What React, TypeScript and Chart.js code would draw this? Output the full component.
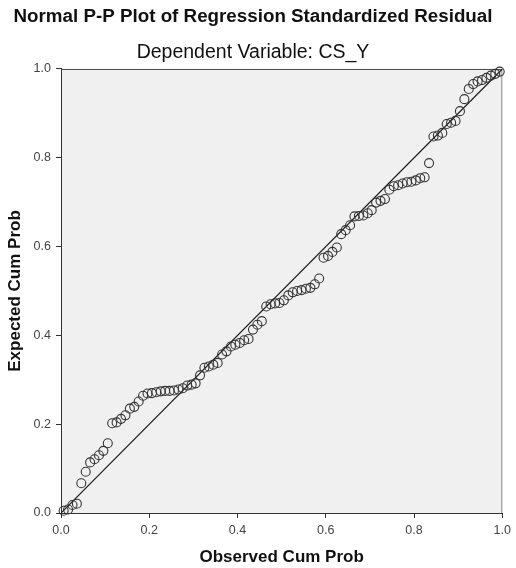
import React, { useEffect, useRef } from "react";
import { Chart, registerables } from "chart.js";

Chart.register(...registerables);

const TITLE = "Normal P-P Plot of Regression Standardized Residual";
const SUBTITLE = "Dependent Variable: CS_Y";
const X_TITLE = "Observed Cum Prob";
const Y_TITLE = "Expected Cum Prob";
const TICKS = [0, 0.2, 0.4, 0.6, 0.8, 1.0];

const observed = [
  0.006, 0.016, 0.026, 0.036, 0.046, 0.056, 0.066, 0.076, 0.086, 0.096,
  0.106, 0.116, 0.126, 0.136, 0.146, 0.156, 0.166, 0.176, 0.186, 0.196,
  0.206, 0.216, 0.226, 0.236, 0.246, 0.256, 0.266, 0.276, 0.286, 0.296,
  0.305, 0.315, 0.325, 0.335, 0.345, 0.355, 0.365, 0.375, 0.385, 0.395,
  0.405, 0.415, 0.425, 0.435, 0.445, 0.455, 0.465, 0.475, 0.485, 0.495,
  0.505, 0.515, 0.525, 0.535, 0.545, 0.555, 0.565, 0.575, 0.585, 0.595,
  0.605, 0.615, 0.625, 0.635, 0.645, 0.655, 0.665, 0.675, 0.685, 0.695,
  0.704, 0.714, 0.724, 0.734, 0.744, 0.754, 0.764, 0.774, 0.784, 0.794,
  0.804, 0.814, 0.824, 0.834, 0.844, 0.854, 0.864, 0.874, 0.884, 0.894,
  0.904, 0.914, 0.924, 0.934, 0.944, 0.954, 0.964, 0.974, 0.984, 0.994,
];

const expected = [
  0.005, 0.008, 0.018, 0.021, 0.067, 0.093, 0.114, 0.121, 0.130, 0.140,
  0.157, 0.202, 0.204, 0.212, 0.220, 0.235, 0.239, 0.251, 0.264, 0.269,
  0.270, 0.272, 0.274, 0.275, 0.275, 0.276, 0.278, 0.281, 0.287, 0.289,
  0.292, 0.310, 0.327, 0.330, 0.334, 0.338, 0.357, 0.364, 0.375, 0.379,
  0.383, 0.389, 0.392, 0.413, 0.424, 0.432, 0.465, 0.470, 0.472, 0.473,
  0.479, 0.490, 0.497, 0.500, 0.502, 0.505, 0.507, 0.515, 0.528, 0.575,
  0.579, 0.588, 0.598, 0.628, 0.637, 0.648, 0.668, 0.669, 0.670, 0.675,
  0.682, 0.699, 0.703, 0.707, 0.728, 0.736, 0.738, 0.742, 0.745, 0.746,
  0.749, 0.754, 0.756, 0.788, 0.848, 0.850, 0.856, 0.876, 0.879, 0.883,
  0.905, 0.932, 0.955, 0.966, 0.972, 0.975, 0.980, 0.985, 0.989, 0.994,
];

const DIAGONAL_X = [0, 1];
const DIAGONAL_Y = [0, 1];

const FONT = '"Liberation Sans", Arial, Helvetica, sans-serif';

const plotFrame = {
  id: "plotFrame",
  beforeDraw(chart: any) {
    const { ctx, chartArea: a } = chart;
    ctx.save();
    ctx.fillStyle = "#F0F0F0";
    ctx.fillRect(a.left, a.top, a.right - a.left, a.bottom - a.top);
    ctx.restore();
  },
  beforeDatasetsDraw(chart: any) {
    const { ctx, chartArea: a } = chart;
    ctx.save();
    ctx.lineWidth = 1;
    ctx.strokeStyle = "#444";
    ctx.beginPath();
    ctx.moveTo(a.left, a.top + 0.5);
    ctx.lineTo(a.right, a.top + 0.5);
    ctx.stroke();
    ctx.strokeStyle = "#8a8a8a";
    ctx.beginPath();
    ctx.moveTo(a.right - 0.5, a.top);
    ctx.lineTo(a.right - 0.5, a.bottom);
    ctx.stroke();
    ctx.restore();
  },
};

function axis(position: "bottom" | "left", titleText: string) {
  return {
    type: "linear" as const,
    position,
    min: 0,
    max: 1,
    afterBuildTicks: (s: any) => {
      s.ticks = TICKS.map((v) => ({ value: v }));
    },
    afterFit: (s: any) => {
      if (position === "bottom") s.height = 55;
      else s.width = 61;
    },
    ticks: {
      font: { family: FONT, size: 12.5 },
      color: "#444",
      padding: 5,
      maxRotation: 0,
      callback: (v: any) => Number(v).toFixed(1),
    },
    grid: {
      drawOnChartArea: false,
      drawTicks: true,
      tickLength: 5,
      color: "#333",
      lineWidth: 1,
    },
    border: { display: true, color: "#333", width: 1 },
    title: {
      display: true,
      text: titleText,
      color: "#111",
      font: { family: FONT, size: 17, weight: "bold" as const },
      padding: position === "bottom" ? { top: 0, bottom: 0 } : { top: 4.8, bottom: 0 },
    },
  };
}

export default function App() {
  const canvasRef = useRef<HTMLCanvasElement | null>(null);

  useEffect(() => {
    const canvas = canvasRef.current;
    if (!canvas) return;
    const points = observed.map((x, i) => ({ x, y: expected[i] }));
    const diag = DIAGONAL_X.map((x, i) => ({ x, y: DIAGONAL_Y[i] }));
    const chart = new Chart(canvas, {
      type: "scatter",
      data: {
        datasets: [
          {
            type: "line",
            data: diag,
            borderColor: "#1a1a1a",
            borderWidth: 1.2,
            pointRadius: 0,
            showLine: true,
            fill: false,
            order: 2,
          } as any,
          {
            type: "scatter",
            data: points,
            pointRadius: 4.5,
            pointBorderWidth: 1.1,
            borderColor: "#333",
            backgroundColor: "rgba(0,0,0,0)",
            pointStyle: "circle",
            clip: false,
            order: 1,
          } as any,
        ],
      },
      options: {
        responsive: false,
        animation: false,
        devicePixelRatio: 1,
        layout: { padding: { left: 0, right: 10, top: 0, bottom: 0 } },
        plugins: {
          legend: { display: false },
          tooltip: { enabled: false },
          title: {
            display: true,
            text: TITLE,
            color: "#111",
            font: { family: FONT, size: 18.8, weight: "bold" },
            padding: { top: 5.3, bottom: 0 },
          },
          subtitle: {
            display: true,
            text: SUBTITLE,
            color: "#111",
            font: { family: FONT, size: 19.5, weight: "normal" },
            padding: { top: 12.9, bottom: 4.8 },
          },
        },
        scales: {
          x: axis("bottom", X_TITLE),
          y: axis("left", Y_TITLE),
        },
      } as any,
      plugins: [plotFrame],
    });
    return () => chart.destroy();
  }, []);

  return (
    <div style={{ position: "absolute", left: 0, top: 0, width: 516, height: 568, background: "#fff" }}>
      <canvas ref={canvasRef} width={516} height={568} style={{ display: "block" }} />
    </div>
  );
}
